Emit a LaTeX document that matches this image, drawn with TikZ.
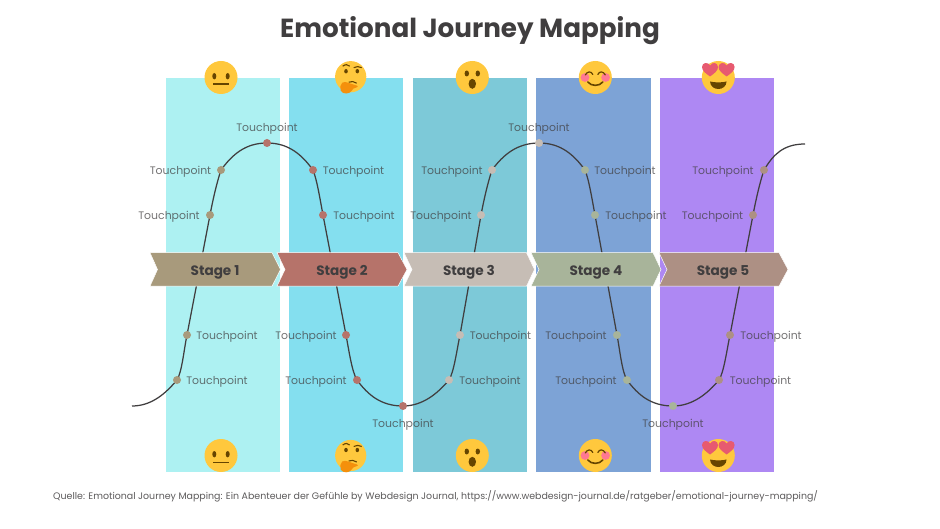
\documentclass[tikz,border=0pt]{standalone}
\usepackage{fontspec}
\setmainfont{Poppins}
\definecolor{bandA}{HTML}{ADF1F2}
\definecolor{bandB}{HTML}{84DFEF}
\definecolor{bandC}{HTML}{7DC9D8}
\definecolor{bandD}{HTML}{7DA3D6}
\definecolor{bandE}{HTML}{AE88F3}
\definecolor{stA}{HTML}{A89A7C}
\definecolor{stB}{HTML}{B6736A}
\definecolor{stC}{HTML}{C6BDB5}
\definecolor{stD}{HTML}{A8B49A}
\definecolor{stE}{HTML}{AD9084}
\definecolor{ink}{HTML}{403E3F}
\definecolor{face}{HTML}{FFC83D}
\definecolor{feat}{HTML}{664500}
\definecolor{blush}{HTML}{FF7892}
\definecolor{heartc}{HTML}{E75A70}
\definecolor{handc}{HTML}{F4900C}
\tikzset{
  x=1pt,y=-1pt,
  band/.style={inner sep=0pt,outer sep=0pt,minimum width=114.4pt,minimum height=393.6pt},
  tp/.style={font=\fontsize{10.9}{12}\selectfont,text=ink,text opacity=.72,inner sep=0pt},
  dotm/.style={circle,inner sep=0pt,minimum size=8pt},
  stagetxt/.style={font=\fontsize{13.6}{14}\bfseries\selectfont,text=ink,inner sep=0pt},
  curve/.style={draw=ink,line width=1.25pt},
  chev/.style={draw=white,line width=.5pt},
  emoneutral/.pic={
    \fill[face] (0,0) circle (16.5);
    \fill[feat] (-6.7,-1.3) ellipse (2 and 3.2) (6.7,-1.3) ellipse (2 and 3.2);
    \fill[feat] (-7.7,6) rectangle (7.7,7.4);
  },
  emothink/.pic={
    \fill[face] (0,0) circle (15.6);
    \fill[feat] (-4.7,-5.5) ellipse (1.8 and 2.2) (6.6,-5.5) ellipse (1.8 and 2.2);
    \draw[feat,line width=1.1pt] (-8,-10.5) .. controls (-5.5,-12.5) and (-2.5,-12.5) .. (-1,-10.5);
    \draw[feat,line width=1.1pt] (3,-9) .. controls (5.5,-10.5) and (8.5,-10.5) .. (11,-9);
    \draw[feat,line width=1.1pt] (-2,5.5) .. controls (1,4) and (3,5) .. (6,6.5);
    \fill[handc] (-8.5,6) .. controls (-5,4) and (-1,7) .. (6.5,9) .. controls (8,9.5) and (7,11) .. (5,11)
       .. controls (3,11.5) and (2,12) .. (1,14) .. controls (-1,17.5) and (-8,18) .. (-10,14) .. controls (-11.5,11) and (-10,8) .. (-8.5,6) -- cycle;
  },
  emowow/.pic={
    \fill[face] (0,0) circle (16.5);
    \fill[feat] (-5.5,-4) ellipse (2.2 and 3) (5.5,-4) ellipse (2.2 and 3);
    \fill[feat] (0,6.3) ellipse (3.7 and 5);
  },
  emosmile/.pic={
    \fill[face] (0,0) circle (16.5);
    \fill[blush] (-10.3,0) circle (4.4) (10.3,0) circle (4.4);
    \draw[feat,line width=1.2pt,line cap=round] (-10,-2.5) .. controls (-8,-6.5) and (-4,-6.5) .. (-2.5,-3);
    \draw[feat,line width=1.2pt,line cap=round] (2.5,-3) .. controls (4,-6.5) and (8,-6.5) .. (10,-2.5);
    \draw[feat,line width=1.6pt,line cap=round] (-7.5,4.5) .. controls (-4,9) and (4,9) .. (7.5,4.5);
  },
  emolove/.pic={
    \fill[face] (0,0) circle (16.5);
    \fill[feat] (-8.3,4) .. controls (-4,5.2) and (4,5.2) .. (8.3,4) .. controls (8,9) and (4,11.5) .. (0,11.5) .. controls (-4,11.5) and (-8,9) .. (-8.3,4) -- cycle;
    \foreach \sx in {-1,1}{
      \fill[heartc,shift={(\sx*8.3,-9)}] (0,8) .. controls (-4,5) and (-8,2.5) .. (-8,-1.5)
        .. controls (-8,-6) and (-2,-7) .. (0,-3) .. controls (2,-7) and (8,-6) .. (8,-1.5)
        .. controls (8,2.5) and (4,5) .. (0,8) -- cycle;
    }
  }
}
\newcommand{\chevron}[5]{%
  \filldraw[chev,fill=#5] (#1,252.7) -- (#3,252.7) -- (#4,269.5) -- (#3,286.2) -- (#1,286.2) -- (#2,269.5) -- cycle;
}
\begin{document}
\begin{tikzpicture}
\useasboundingbox (0,0) rectangle (940,529);
\fill[white] (0,0) rectangle (940,529);
\node[font=\fontsize{26.2}{30}\bfseries\selectfont,text=ink,inner sep=0pt] (title) at (470,31) {Emotional Journey Mapping};
\node[band,fill=bandA] (b1) at (223,275) {};
\node[band,fill=bandB] (b2) at (346.2,275) {};
\node[band,fill=bandC] (b3) at (469.9,275) {};
\node[band,fill=bandD] (b4) at (593.4,275) {};
\node[band,fill=bandE] (b5) at (716.9,275) {};
\coordinate (s) at (132,406);
\coordinate (e) at (805,144);
\foreach \n/\px/\py in {a1/177/380,a2/187/335,a3/210/215,a4/221/170,a5/267/143,
  c1/313/170,c2/323/215,c3/346/335,c4/357/380,c5/403/406,
  d1/449/380,d2/460/335,d3/481/215,d4/492/170,d5/539/143,
  f1/585/170,f2/595/215,f3/617/335,f4/627/380,f5/673/406,
  g1/719/380,g2/730/335,g3/753/215,g4/764/170}{\coordinate (\n) at (\px,\py);}
\draw[curve] (s) .. controls +(20,0) and +(-11,13) .. (a1) .. controls +(5,-8) and +(-3,14) .. (a2) -- (a3)
  .. controls +(3,-16) and +(-4,12) .. (a4) .. controls +(11,-15) and +(-22,0) .. (a5)
  .. controls +(22,0) and +(-11,-15) .. (c1) .. controls +(4,10) and +(-3,-16) .. (c2) -- (c3)
  .. controls +(3,16) and +(-5,-8) .. (c4) .. controls +(11,15) and +(-22,0) .. (c5)
  .. controls +(20,0) and +(-11,13) .. (d1) .. controls +(5,-8) and +(-3,14) .. (d2) -- (d3)
  .. controls +(3,-16) and +(-4,12) .. (d4) .. controls +(11,-15) and +(-22,0) .. (d5)
  .. controls +(22,0) and +(-11,-15) .. (f1) .. controls +(4,10) and +(-3,-16) .. (f2) -- (f3)
  .. controls +(3,16) and +(-5,-8) .. (f4) .. controls +(11,15) and +(-22,0) .. (f5)
  .. controls +(20,0) and +(-11,13) .. (g1) .. controls +(5,-8) and +(-3,14) .. (g2) -- (g3)
  .. controls +(3,-16) and +(-4,12) .. (g4) .. controls +(9,-15) and +(-22,0) .. (e);
\chevron{150}{157.5}{272}{280.5}{stA}
\chevron{277}{285}{398}{407}{stB}
\chevron{404}{412}{526.5}{534.5}{stC}
\chevron{531}{539}{653}{661}{stD}
\chevron{659}{667}{779}{788}{stE}
\node[stagetxt] (s1) at (215,272) {Stage 1};
\node[stagetxt] (s2) at (342,272) {Stage 2};
\node[stagetxt] (s3) at (469,272) {Stage 3};
\node[stagetxt] (s4) at (596,272) {Stage 4};
\node[stagetxt] (s5) at (723,272) {Stage 5};
\foreach \n/\c in {a1/stA,a2/stA,a3/stA,a4/stA,a5/stB,c1/stB,c2/stB,c3/stB,c4/stB,c5/stB,
  d1/stC,d2/stC,d3/stC,d4/stC,d5/stC,f1/stD,f2/stD,f3/stD,f4/stD,f5/stD,g1/stE,g2/stE,g3/stE,g4/stE}
  {\node[dotm,fill=\c] (dot\n) at (\n) {};}
\foreach \n/\px/\py in {l1/217/381.5,l2/227/336.5,l3/169/216.5,l4/180.5/171.5,l5/267/128.5,
  l6/353.5/171.5,l7/364/216.5,l8/306/336.5,l9/316/381.5,l10/403/424.5,
  l11/490/381.5,l12/500.5/336.5,l13/441/216.5,l14/452/171.5,l15/539/128.5,
  l16/625/171.5,l17/636/216.5,l18/576/336.5,l19/586/381.5,l20/673/424.5,
  l21/760.5/381.5,l22/771/336.5,l23/712.5/216.5,l24/723/171.5}
  {\node[tp] (\n) at (\px,\py) {Touchpoint};}
\path (221,77.5) pic {emoneutral} (221,455.5) pic {emoneutral};
\path (350.7,76.7) pic {emothink} (350.7,455.5) pic {emothink};
\path (472.3,77.5) pic {emowow} (472.3,455.5) pic {emowow};
\path (595.3,77.5) pic {emosmile} (595.3,455.5) pic {emosmile};
\path (718.3,77.5) pic {emolove} (718.3,455.5) pic {emolove};
\node[anchor=west,inner sep=0pt,font=\fontsize{9.45}{10}\selectfont,text=ink!85] (src) at (53,496) {Quelle: Emotional Journey Mapping: Ein Abenteuer der Gefühle by Webdesign Journal, https://www.webdesign-journal.de/ratgeber/emotional-journey-mapping/};
\end{tikzpicture}
\end{document}
